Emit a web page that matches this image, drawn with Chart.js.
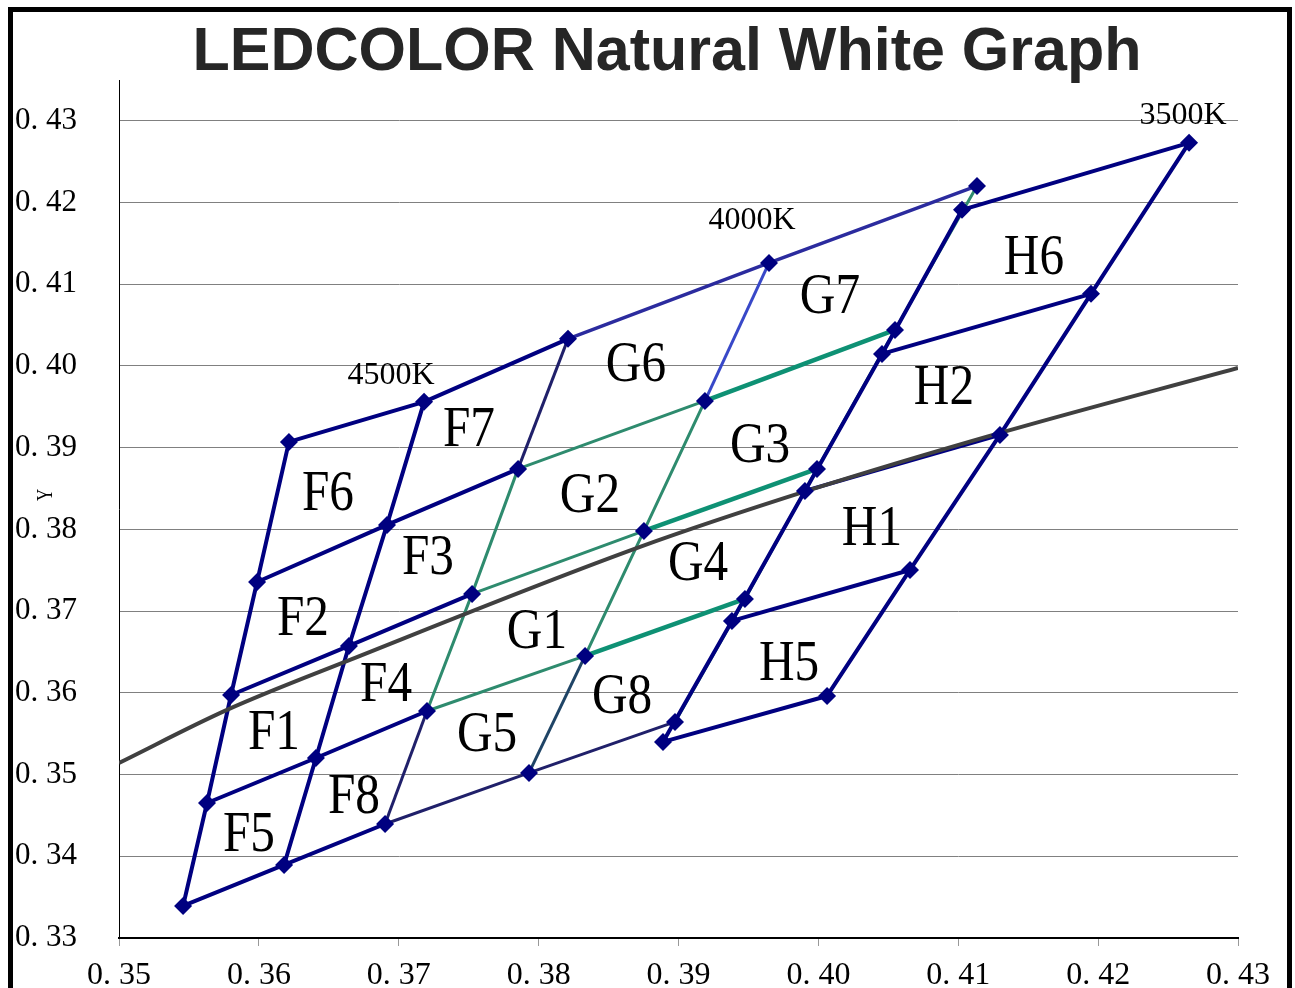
<!DOCTYPE html>
<html>
<head>
<meta charset="utf-8">
<script src="https://cdn.jsdelivr.net/npm/chart.js@4.4.1/dist/chart.umd.min.js"></script>
<style>
  html, body { margin: 0; padding: 0; background: #fff; }
  #contenedor-canvas { position: relative; width: 1295px; height: 988px; }
</style>
</head>
<body>
<div id="contenedor-canvas"><canvas id="grafico" width="1295" height="988"></canvas></div>
<script>
/******************************************************************
 * Datos: esquinas de los bins (coordenadas cromaticas x, y)
 * P1..P35, los tramos usan estos numeros
 ******************************************************************/
const cornerX = [
  0.35458, 0.35629, 0.35801, 0.35987, 0.36215, 0.37181, 0.3821, 0.39647, 0.41134, 0.4265,
  0.41027, 0.41949, 0.40548, 0.40455, 0.39189, 0.37853, 0.36916, 0.38753, 0.3999, 0.41298,
  0.39904, 0.37524, 0.36644, 0.39475, 0.39382, 0.40655, 0.38332, 0.37202, 0.36408, 0.38975,
  0.38889, 0.40062, 0.37931, 0.36902, 0.3618,
];
const cornerY = [
  0.33392, 0.34652, 0.35974, 0.37357, 0.39071, 0.39561, 0.40332, 0.41262, 0.42204, 0.42731,
  0.41911, 0.40883, 0.40442, 0.40148, 0.39573, 0.38741, 0.38055, 0.37982, 0.38741, 0.39157,
  0.38471, 0.37211, 0.36574, 0.37149, 0.3688, 0.37504, 0.36452, 0.35778, 0.35203, 0.35644,
  0.354, 0.35962, 0.3502, 0.34395, 0.33894,
];

// curva del cuerpo negro
const locusX = [0.35, 0.35772, 0.36651, 0.38725, 0.3994, 0.41299, 0.43];
const locusY = [0.35142, 0.35791, 0.36403, 0.37786, 0.38483, 0.39181, 0.39977];

// tramos (numeros de esquina)
const tramosF = [[1, 2, 3, 4, 5], [5, 6, 7], [35, 29, 23, 17, 6], [1, 35, 34], [2, 29, 28], [3, 23, 22], [4, 17, 16]];
const tramosH = [[31, 25, 21, 14, 11], [11, 10], [32, 26, 20, 12, 10], [31, 32], [25, 26], [21, 20], [14, 12]];
const tramosBordeG = [[34, 28], [16, 7], [34, 33, 30]];
const tramosVerdes = [[28, 22, 16], [28, 27], [22, 18], [16, 15], [27, 18, 15], [30, 24, 19, 13, 9]];
const tramosTeal = [[27, 24], [18, 19], [15, 13]];
const tramoSuperior = [[7, 8, 9]];
const tramoAzul = [[15, 8]];
const tramoMixto = [[33, 27]];

// nombres de los bins
const binNames = ["F5", "F8", "F1", "F4", "F2", "F3", "F6", "F7", "G5", "G8", "G1", "G4", "G2", "G3", "G6", "G7", "H5", "H1", "H2", "H6"];
const binX = [0.35929, 0.3668, 0.36108, 0.36909, 0.36315, 0.37209, 0.36494, 0.37502, 0.37631, 0.38596, 0.37988, 0.3914, 0.38367, 0.39583, 0.38696, 0.40083, 0.3979, 0.40383, 0.40898, 0.41541];
const binY = [0.34285, 0.3475, 0.35534, 0.36121, 0.36929, 0.37676, 0.38459, 0.39242, 0.35509, 0.35974, 0.3677, 0.37602, 0.38434, 0.39047, 0.40038, 0.4087, 0.36378, 0.38031, 0.39757, 0.41348];

// temperaturas de color
const cctNames = ["4500K", "4000K", "3500K"];
const cctX = [0.36945, 0.39525, 0.42607];
const cctY = [0.39915, 0.41812, 0.43098];

// ejes
const xTicks = [0.35, 0.36, 0.37, 0.38, 0.39, 0.4, 0.41, 0.42, 0.43];
const yTicks = [0.33, 0.34, 0.35, 0.36, 0.37, 0.38, 0.39, 0.4, 0.41, 0.42, 0.43];

const titulo = "LEDCOLOR Natural White Graph";

/******************************************************************
 * Construccion de datasets
 ******************************************************************/
const punto = (n) => ({ x: cornerX[n - 1], y: cornerY[n - 1] });

const crearTramos = (tramos, color, ancho, orden) =>
  tramos.map((t) => ({
    data: t.map(punto),
    showLine: true,
    borderColor: color,
    borderWidth: ancho,
    borderJoinStyle: "round",
    pointRadius: 0,
    order: orden,
  }));

const datasets = [
  {
    data: cornerX.map((x, i) => ({ x, y: cornerY[i] })),
    showLine: false,
    pointStyle: "rectRot",
    pointRadius: 9,
    pointBackgroundColor: "#000080",
    pointBorderWidth: 0,
    order: 0,
  },
  {
    data: locusX.map((x, i) => ({ x, y: locusY[i] })),
    showLine: true,
    borderColor: "#404040",
    borderWidth: 4,
    pointRadius: 0,
    cubicInterpolationMode: "monotone",
    order: 1,
  },
  ...crearTramos(tramosF, "#000080", 4, 2),
  ...crearTramos(tramosH, "#000080", 4, 2),
  ...crearTramos(tramosBordeG, "#20206a", 3, 3),
  ...crearTramos(tramoSuperior, "#2b2b9e", 3.5, 4),
  ...crearTramos(tramoAzul, "#3848c8", 3, 4),
  ...crearTramos(tramoMixto, "#1f4466", 3, 4),
  ...crearTramos(tramosTeal, "#0e9174", 4.5, 5),
  ...crearTramos(tramosVerdes, "#2e8b6e", 3, 6),
];

/******************************************************************
 * Plugin para textos, marco y titulo
 ******************************************************************/
const textosPlugin = {
  id: "textos",
  beforeDraw(chart) {
    const ctx = chart.ctx;
    ctx.save();
    ctx.fillStyle = "#fff";
    ctx.fillRect(0, 0, chart.width, chart.height);
    ctx.restore();
  },
  afterDatasetsDraw(chart) {
    const ctx = chart.ctx;
    const sx = chart.scales.x;
    const sy = chart.scales.y;
    ctx.save();
    ctx.fillStyle = "#000";
    ctx.textAlign = "center";
    ctx.textBaseline = "alphabetic";
    ctx.font = '56px "Liberation Serif"';
    binNames.forEach((name, i) => {
      ctx.save();
      ctx.translate(sx.getPixelForValue(binX[i]), sy.getPixelForValue(binY[i]) + 18);
      ctx.scale(0.88, 1);
      ctx.fillText(name, 0, 0);
      ctx.restore();
    });
    ctx.font = '32px "Liberation Serif"';
    cctNames.forEach((name, i) => {
      ctx.fillText(name, sx.getPixelForValue(cctX[i]), sy.getPixelForValue(cctY[i]) + 11);
    });
    ctx.restore();
  },
  afterDraw(chart) {
    const ctx = chart.ctx;
    ctx.save();
    // titulo
    ctx.fillStyle = "#262626";
    ctx.font = 'bold 61px "Liberation Sans"';
    ctx.textAlign = "center";
    ctx.textBaseline = "alphabetic";
    ctx.fillText(titulo, 667, 70);
    // titulo eje Y
    ctx.fillStyle = "#000";
    ctx.font = '24px "Liberation Serif"';
    ctx.translate(46, 495);
    ctx.rotate(-Math.PI / 2);
    ctx.scale(0.7, 1);
    ctx.textBaseline = "middle";
    ctx.fillText("Y", 0, 0);
    ctx.restore();
    // marco
    ctx.save();
    ctx.strokeStyle = "#000";
    ctx.lineWidth = 5;
    ctx.strokeRect(10.5, 9.5, 1279, 1100);
    ctx.restore();
  },
};

const formato = (v) => v.toFixed(2).replace(".", ". ");

new Chart(document.getElementById("grafico"), {
  type: "scatter",
  data: { datasets },
  options: {
    responsive: false,
    animation: false,
    layout: { padding: { top: 80, right: 57, left: 0, bottom: 0 } },
    plugins: {
      legend: { display: false },
      tooltip: { enabled: false },
      title: { display: false },
    },
    scales: {
      x: {
        type: "linear",
        min: 0.35,
        max: 0.43,
        afterFit: (scale) => { scale.height = 50; },
        afterBuildTicks: (scale) => { scale.ticks = xTicks.map((v) => ({ value: v })); },
        ticks: {
          callback: (v) => formato(v),
          font: { family: "Liberation Serif", size: 32 },
          color: "#000",
          padding: 10,
          maxRotation: 0,
        },
        grid: { drawOnChartArea: false, drawTicks: true, tickLength: 8, color: "#999" },
        border: { color: "#000", width: 2 },
      },
      y: {
        type: "linear",
        min: 0.33,
        max: 0.435,
        afterFit: (scale) => {
          scale.width = 119;
          scale.paddingTop = 0;
          scale.paddingBottom = 0;
        },
        afterBuildTicks: (scale) => { scale.ticks = yTicks.map((v) => ({ value: v })); },
        ticks: {
          callback: (v) => formato(v),
          font: { family: "Liberation Serif", size: 31 },
          color: "#000",
          padding: 42,
        },
        grid: { drawTicks: false, color: "#808080", lineWidth: 1 },
        border: { color: "#000", width: 1 },
      },
    },
  },
  plugins: [textosPlugin],
});
</script>
</body>
</html>
